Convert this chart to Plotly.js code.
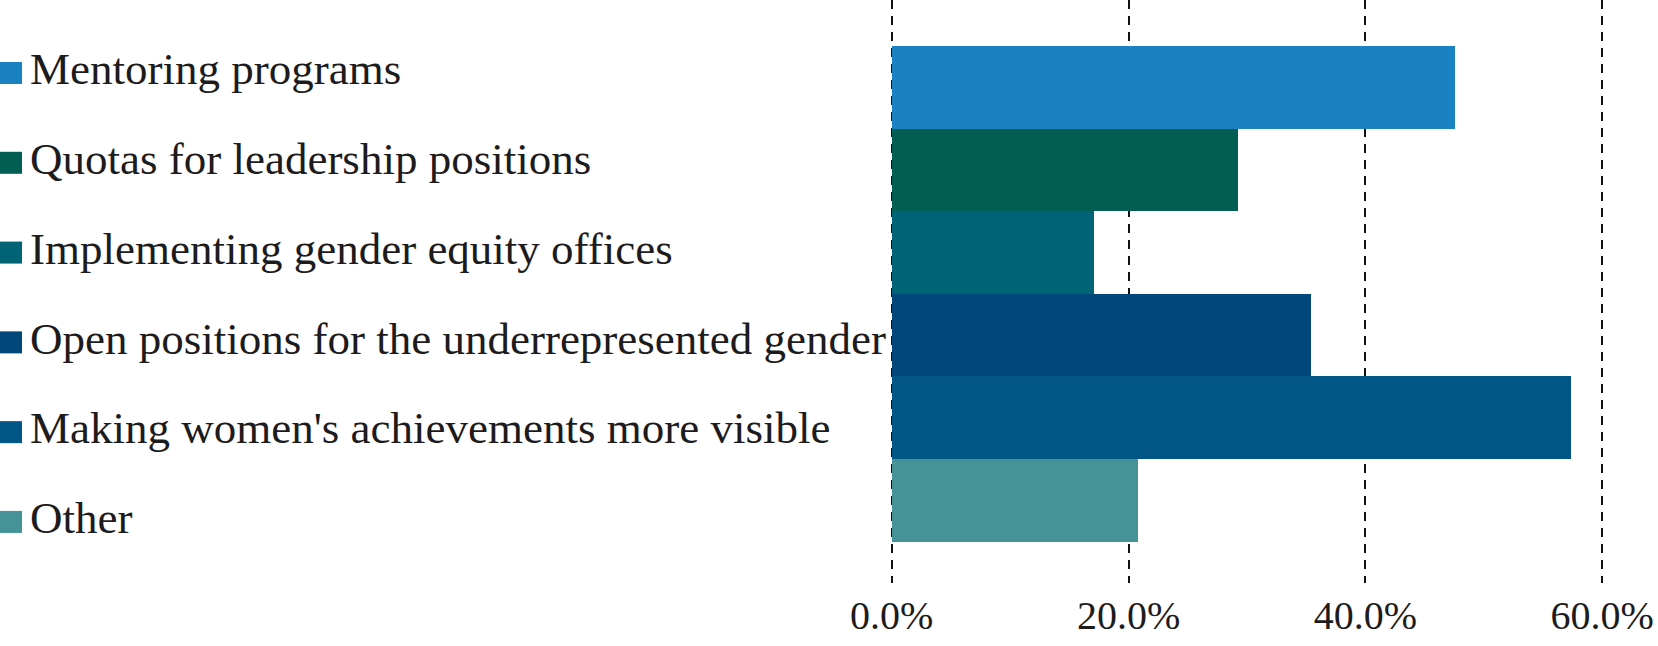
<!DOCTYPE html>
<html>
<head>
<meta charset="utf-8">
<script src="https://cdn.plot.ly/plotly-3.0.1.min.js"></script>
<style>
  html, body { margin: 0; padding: 0; background: #fff; }
  #chart { width: 1658px; height: 646px; }
</style>
</head>
<body>
<div id="chart"></div>
<script>
// answers, top to bottom as in the figure
var measures = [
    'Mentoring programs',
    'Quotas for leadership positions',
    'Implementing gender equity offices',
    'Open positions for the underrepresented gender',
    "Making women's achievements more visible",
    'Other'
];
var shares = [0.476, 0.292, 0.171, 0.354, 0.574, 0.208];
var barColors = ['#1a82c1', '#025e52', '#006477', '#01477a', '#015686', '#459397'];
var tickVals = [0, 0.2, 0.4, 0.6];
var tickText = ['0.0%', '20.0%', '40.0%', '60.0%'];

var serif = 'Liberation Serif, Times New Roman, serif';
var ink = '#1d1b1c';

var bars = {
    type: 'bar',
    orientation: 'h',
    y: measures,
    x: shares,
    width: 1,
    marker: { color: barColors, line: { width: 0 } },
    hoverinfo: 'skip',
    xaxis: 'x',
    yaxis: 'y'
};

// legend on the left: square swatches, then the labels
var swatches = {
    type: 'scatter',
    mode: 'markers',
    y: measures,
    x: measures.map(function(){ return 0; }),
    marker: { symbol: 'square', size: 22, color: barColors, line: { width: 0 } },
    cliponaxis: false,
    hoverinfo: 'skip',
    xaxis: 'x2',
    yaxis: 'y2'
};
var labels = {
    type: 'scatter',
    mode: 'text',
    y: measures,
    x: measures.map(function(){ return 19; }),
    text: measures,
    textposition: 'middle right',
    textfont: { family: serif, size: 45, color: ink },
    cliponaxis: false,
    hoverinfo: 'skip',
    xaxis: 'x2',
    yaxis: 'y2'
};

var layout = {
    width: 1658,
    height: 646,
    margin: { l: 0, r: 54, t: 0, b: 63 },
    showlegend: false,
    bargap: 0,
    plot_bgcolor: '#fff',
    paper_bgcolor: '#fff',
    font: { family: serif, size: 42, color: ink },
    xaxis: {
        domain: [890 / 1604, 1],
        range: [-0.0015, 0.6015],
        tickvals: tickVals,
        ticktext: tickText,
        showgrid: true,
        gridcolor: '#111',
        gridwidth: 2,
        griddash: '9px,7px',
        zeroline: false,
        showline: false,
        ticks: '',
        ticklabelstandoff: 5,
        tickfont: { family: serif, size: 40, color: ink }
    },
    yaxis: {
        type: 'category',
        range: [6.0, -1.056],
        showgrid: false,
        zeroline: false,
        showline: false,
        showticklabels: false,
        ticks: ''
    },
    xaxis2: {
        domain: [0, 0.55],
        anchor: 'y2',
        range: [-11, 871],
        visible: false
    },
    yaxis2: {
        type: 'category',
        anchor: 'x2',
        range: [5.68, -0.813],
        visible: false
    }
};

Plotly.newPlot('chart', [bars, swatches, labels], layout, { displayModeBar: false, staticPlot: true });
</script>
</body>
</html>
